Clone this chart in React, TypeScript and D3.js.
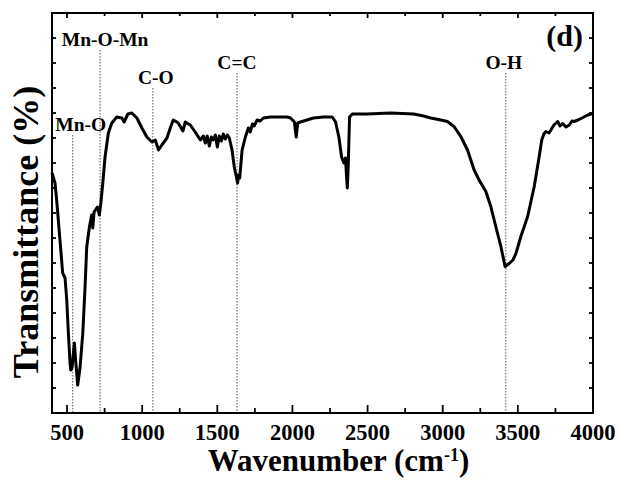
import { useEffect, useRef } from "react"
import * as d3 from "d3"

// FTIR spectrum (wavenumber cm-1, transmittance in arbitrary units)
const wavenumbers = [
  400, 420, 431, 453, 471, 487, 498, 509, 520, 525, 533, 549, 557, 571, 587, 605, 620, 631, 649, 664,
  671, 680, 702, 715, 725, 738, 753, 775, 798, 831, 865, 880, 905, 931, 965, 998, 1031, 1065, 1087, 1109,
  1131, 1165, 1187, 1207, 1220, 1240, 1271, 1287, 1320, 1353, 1387, 1407, 1420, 1433, 1447, 1460, 1473, 1487, 1500, 1513,
  1527, 1540, 1553, 1567, 1580, 1598, 1613, 1627, 1635, 1642, 1649, 1665, 1687, 1700, 1707, 1720, 1733, 1745, 1765, 1785,
  1807, 1853, 1900, 1965, 1987, 2013, 2025, 2035, 2053, 2140, 2207, 2265, 2287, 2309, 2327, 2342, 2353, 2360, 2365, 2371,
  2380, 2398, 2498, 2653, 2807, 2873, 2920, 2987, 3031, 3075, 3120, 3165, 3209, 3242, 3287, 3320, 3353, 3387, 3415, 3442,
  3467, 3487, 3520, 3565, 3609, 3642, 3659, 3673, 3687, 3707, 3720, 3740, 3765, 3780, 3798, 3820, 3842, 3860, 3875, 3900,
  3920, 3940, 3965, 3998,
]
const transmittance = [
  48.0, 46.0, 42.6, 34.6, 28.0, 27.0, 22.6, 16.0, 10.0, 8.6, 9.0, 14.0, 10.6, 5.6, 9.2, 16.0, 25.2, 33.2, 37.2, 39.6,
  37.0, 40.2, 41.2, 39.6, 42.0, 46.0, 51.2, 56.0, 58.0, 59.2, 59.0, 58.2, 59.8, 60.0, 59.0, 57.0, 55.2, 54.2, 54.6, 52.6,
  53.6, 55.0, 57.0, 58.6, 58.4, 58.0, 56.4, 58.2, 57.6, 56.2, 54.6, 55.4, 54.0, 55.4, 53.4, 55.2, 54.6, 55.6, 53.2, 55.4,
  54.4, 55.8, 54.8, 55.6, 55.0, 52.6, 49.2, 47.2, 46.0, 47.6, 47.0, 52.6, 55.2, 56.4, 57.0, 56.2, 57.8, 57.4, 58.6, 58.4,
  59.0, 59.2, 59.2, 59.2, 59.0, 58.2, 55.2, 58.0, 58.2, 59.0, 59.2, 59.2, 58.2, 55.2, 51.2, 50.0, 51.0, 47.2, 45.0, 49.2,
  59.2, 59.8, 59.8, 60.0, 59.8, 59.4, 59.0, 58.6, 58.3, 57.3, 55.3, 52.6, 48.6, 46.6, 44.3, 41.3, 37.3, 33.3, 29.3, 29.9,
  30.6, 31.9, 35.3, 39.3, 45.3, 51.3, 54.6, 55.8, 56.3, 56.0, 56.6, 57.6, 58.3, 57.4, 57.9, 57.2, 57.6, 58.4, 58.3, 58.6,
  58.9, 59.2, 59.6, 59.9,
]

const xTicks = [500, 1000, 1500, 2000, 2500, 3000, 3500, 4000]
const xMinorTicks = [750, 1250, 1750, 2250, 2750, 3250, 3750]

// band assignments: label, position, top of the dotted guide, label offset
const bandLabels = ["Mn-O", "Mn-O-Mn", "C-O", "C=C", "O-H"]
const bandWavenumbers = [538, 720, 1071, 1631, 3420]
const bandTops = [55.6, 72.6, 65, 68, 68]
const bandDx = [8, 5, 3, 0, -2]

const W = 620
const H = 485
const margin = { top: 13, right: 27, bottom: 72, left: 52 }

export default function App() {
  const svgRef = useRef<SVGSVGElement>(null)

  useEffect(() => {
    const svg = d3.select(svgRef.current)
    svg.selectAll("*").remove()

    const width = W - margin.left - margin.right
    const height = H - margin.top - margin.bottom
    const font = "Liberation Serif, Times New Roman, serif"

    const x = d3.scaleLinear().domain([400, 4000]).range([0, width])
    const y = d3.scaleLinear().domain([0, 80]).range([height, 0])
    const yTicks = d3.range(5, 80, 5)

    const g = svg.append("g").attr("transform", `translate(${margin.left},${margin.top})`)

    // dotted guides for the bands
    bandWavenumbers.forEach((w, i) => {
      g.append("line")
        .attr("x1", x(w))
        .attr("x2", x(w))
        .attr("y1", y(bandTops[i]))
        .attr("y2", height)
        .attr("stroke", "#555")
        .attr("stroke-width", 1)
        .attr("stroke-dasharray", "1.5,1.5")
      g.append("text")
        .attr("x", x(w) + bandDx[i])
        .attr("y", y(bandTops[i]) - 4)
        .attr("text-anchor", "middle")
        .attr("font-family", font)
        .attr("font-weight", "bold")
        .attr("font-size", 19.5)
        .text(bandLabels[i])
    })

    // spectrum
    const pts = wavenumbers.map((w, i) => [w, transmittance[i]] as [number, number])
    const line = d3
      .line<[number, number]>()
      .x((d) => x(d[0]))
      .y((d) => y(d[1]))
    g.append("path")
      .datum(pts)
      .attr("fill", "none")
      .attr("stroke", "#000")
      .attr("stroke-width", 3)
      .attr("stroke-linejoin", "round")
      .attr("d", line)

    // ticks, all pointing inward
    const tick = (x1: number, y1: number, x2: number, y2: number) =>
      g.append("line").attr("x1", x1).attr("y1", y1).attr("x2", x2).attr("y2", y2).attr("stroke", "#000").attr("stroke-width", 1.8)
    xTicks.forEach((t) => {
      tick(x(t), height, x(t), height - 8)
      tick(x(t), 0, x(t), 5)
    })
    xMinorTicks.forEach((t) => {
      tick(x(t), height, x(t), height - 5)
      tick(x(t), 0, x(t), 3)
    })
    yTicks.forEach((t) => {
      tick(0, y(t), 4, y(t))
      tick(width, y(t), width - 4, y(t))
    })

    // frame
    g.append("rect")
      .attr("width", width)
      .attr("height", height)
      .attr("fill", "none")
      .attr("stroke", "#000")
      .attr("stroke-width", 2)

    // x tick labels
    g.selectAll(".xl")
      .data(xTicks)
      .enter()
      .append("text")
      .attr("x", (d) => x(d))
      .attr("y", height + 27)
      .attr("text-anchor", "middle")
      .attr("font-family", font)
      .attr("font-weight", "bold")
      .attr("font-size", 22.5)
      .text((d) => d)

    // axis titles
    const xt = g
      .append("text")
      .attr("x", width / 2 + 16)
      .attr("y", height + 58)
      .attr("text-anchor", "middle")
      .attr("font-family", font)
      .attr("font-weight", "bold")
      .attr("font-size", 31)
    xt.append("tspan").text("Wavenumber (cm")
    xt.append("tspan").attr("dy", -10).attr("font-size", 18).text("-1")
    xt.append("tspan").attr("dy", 10).text(")")

    svg
      .append("text")
      .attr("transform", `translate(38,${margin.top + height / 2 + 19}) rotate(-90)`)
      .attr("text-anchor", "middle")
      .attr("font-family", font)
      .attr("font-weight", "bold")
      .attr("font-size", 36)
      .text("Transmittance (%)")

    // panel label
    g.append("text")
      .attr("x", width - 10)
      .attr("y", 33)
      .attr("text-anchor", "end")
      .attr("font-family", font)
      .attr("font-weight", "bold")
      .attr("font-size", 30)
      .text("(d)")
  }, [])

  return <svg ref={svgRef} width={W} height={H} style={{ position: "absolute", left: 0, top: 0, background: "#fff" }} />
}
